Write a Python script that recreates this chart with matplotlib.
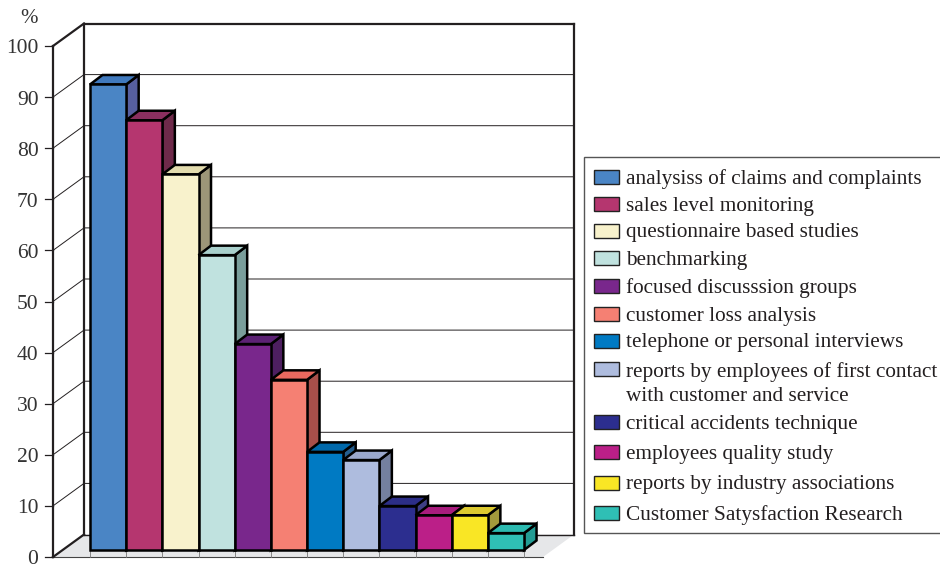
import matplotlib
matplotlib.use("Agg")
import matplotlib.pyplot as plt
from matplotlib.patches import Polygon, Rectangle

plt.rcParams['font.family'] = ['Liberation Serif', 'DejaVu Serif']

labels = ["analysiss of claims and complaints", "sales level monitoring",
          "questionnaire based studies", "benchmarking", "focused discusssion groups",
          "customer loss analysis", "telephone or personal interviews",
          "reports by employees of first contact\nwith customer and service",
          "critical accidents technique", "employees quality study",
          "reports by industry associations", "Customer Satysfaction Research"]
values = [91.1, 84.1, 73.5, 57.7, 40.3, 33.3, 19.2, 17.6, 8.6, 6.8, 6.8, 3.3]
front_colors = ["#4a85c5", "#b5366f", "#f8f2cc", "#c0e2df", "#79278c", "#f58073",
                "#007ac3", "#aebcde", "#2c2e8f", "#bb1f88", "#f9e625", "#2fbfb5"]
top_colors = ["#4079bd", "#8a2f5f", "#e3dcae", "#a9d0cc", "#5c2274", "#e8695f",
              "#0069ab", "#9aa8cc", "#2c2e88", "#a81c7d", "#dcc930", "#2cbab0"]
side_colors = ["#575f9f", "#6e2a4a", "#9c9678", "#7a9e9b", "#4d1f60", "#a84f4a",
               "#255e8e", "#74809f", "#3f3f85", "#7a1e62", "#a39a3c", "#239c94"]
yticks = list(range(0, 101, 10))
legend_rows = [177, 204, 231, 258, 286, 314, 341, 369, 422, 452, 483, 513]

W, H = 940, 564
fig = plt.figure(figsize=(W / 100, H / 100), dpi=100)

# main axes = front plane of the 3-D box
L, R, B, T = 53, 543, 557, 46
ax = fig.add_axes([L / W, 1 - B / H, (R - L) / W, (B - T) / H])
ux = 36.17                 # px per category
uy = (B - T) / 100         # px per %
ax.set_xlim(0, (R - L) / ux)
ax.set_ylim(0, 100)
ax.axis("off")

def X(px): return px / ux
def Y(px): return px / uy

wdx, wdy = X(31), Y(22.5)      # wall depth
bdx, bdy = X(12.5), Y(9.5)     # bar depth
x0 = X(37)                     # first bar offset
base = Y(7)                    # bar base above front floor edge
xmax = (R - L) / ux
ink = "#231f20"
kw = dict(clip_on=False)

# floor
ax.add_patch(Polygon([(0, 0), (xmax, 0), (xmax + wdx, wdy), (wdx, wdy)],
                     fc="#e6e7e9", ec="none", zorder=1, **kw))
ax.plot([0, xmax], [0, 0], color="#444444", lw=0.8, zorder=2, **kw)

# gridlines on walls
for v in yticks[1:-1]:
    ax.plot([0, wdx, xmax + wdx], [v, v + wdy, v + wdy], color=ink, lw=0.7, zorder=2, **kw)

# wall frame
lwf = 1.6
ax.plot([wdx, wdx], [wdy, 100 + wdy], color=ink, lw=lwf, zorder=3, **kw)
ax.plot([wdx, xmax + wdx], [100 + wdy, 100 + wdy], color=ink, lw=lwf, zorder=3, **kw)
ax.plot([xmax + wdx, xmax + wdx], [wdy, 100 + wdy], color=ink, lw=lwf, zorder=3, **kw)
ax.plot([wdx, xmax + wdx], [wdy, wdy], color=ink, lw=1.0, zorder=3, **kw)
ax.plot([0, 0], [0, 100], color=ink, lw=lwf, zorder=3, **kw)
ax.plot([0, wdx], [100, 100 + wdy], color=ink, lw=lwf, zorder=3, **kw)
ax.plot([0, wdx], [0, wdy], color=ink, lw=lwf, zorder=3, **kw)

# y ticks and labels
for v in yticks:
    ax.plot([-X(8), 0], [v, v], color=ink, lw=0.9, zorder=3, **kw)
    ax.text(-X(14.5), v - Y(0.5), str(v), ha="right", va="center_baseline", fontsize=15.5, color="#333333", **kw)
ax.text(-X(24), 100 + Y(30), "%", ha="center", va="center_baseline", fontsize=15, color="#333333", **kw)

# category ticks on floor
for i in range(len(values) + 1):
    xp = x0 + i
    ax.plot([xp, xp], [0, base], color="#777777", lw=0.6, zorder=2, **kw)

# bars
for i, v in enumerate(values):
    xl, xr, yb, yt = x0 + i, x0 + i + 1, base, base + v
    z = 5 + i
    pk = dict(ec="black", lw=1.8, joinstyle="miter", zorder=z, **kw)
    ax.add_patch(Polygon([(xr, yb), (xr + bdx, yb + bdy), (xr + bdx, yt + bdy), (xr, yt)],
                         fc=side_colors[i], **pk))
    ax.add_patch(Polygon([(xl, yt), (xr, yt), (xr + bdx, yt + bdy), (xl + bdx, yt + bdy)],
                         fc=top_colors[i], **pk))
    ax.add_patch(Rectangle((xl, yb), 1, v, fc=front_colors[i], **pk))

# legend panel in pixel coordinates
lg = fig.add_axes([0, 0, 1, 1], facecolor="none")
lg.set_xlim(0, W)
lg.set_ylim(H, 0)
lg.axis("off")
lg.add_patch(Rectangle((584, 157), 400, 376, fc="white", ec="#555555", lw=1.0))
for lab, col, y in zip(labels, front_colors, legend_rows):
    lg.add_patch(Rectangle((593.5, y - 7), 25, 13.5, fc=col, ec="#222222", lw=1.0))
    two = "\n" in lab
    lg.text(626, y + 15 if two else y + 2, lab, ha="left", va="center",
            fontsize=15.35, color="#231f20", linespacing=1.36)

fig.savefig("out.png", dpi=100)
